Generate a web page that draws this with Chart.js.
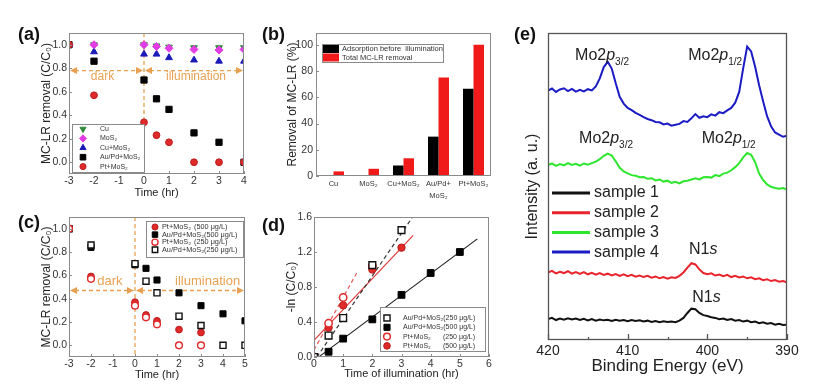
<!DOCTYPE html>
<html lang="en">
  <head>
    <meta charset="UTF-8" />
    <title>MC-LR removal and XPS</title>
    <script src="https://cdn.jsdelivr.net/npm/chart.js@4.4.1/dist/chart.umd.min.js"></script>
    <style>
      body { margin: 0; background: #fff; }
      #page { position: relative; width: 836px; height: 392px; overflow: hidden; }
      #page canvas { position: absolute; }
      .tag { position: absolute; font: bold 18px Arial, "Liberation Sans", sans-serif; line-height: 1; color: #111; }
    </style>
  </head>
  <body>
    <div id="page">
      <canvas id="chart-a"></canvas>
      <canvas id="chart-b"></canvas>
      <canvas id="chart-c"></canvas>
      <canvas id="chart-d"></canvas>
      <canvas id="chart-e"></canvas>
      <div class="tag" style="left: 18px; top: 25px">(a)</div>
      <div class="tag" style="left: 262px; top: 25px">(b)</div>
      <div class="tag" style="left: 18px; top: 213px">(c)</div>
      <div class="tag" style="left: 262px; top: 216px">(d)</div>
      <div class="tag" style="left: 514px; top: 25px">(e)</div>
    </div>

    <script>
      // (a) C/C0 with each catalyst
      const timeA = [-3, -2, 0, 0.5, 1, 2, 3, 4];
      const cuA = [1.0, 1.0, 1.0, 0.99, 0.98, 0.975, 0.975, 0.975];
      const mos2A = [1.0, 1.0, 1.0, 0.985, 0.97, 0.96, 0.955, 0.96];
      const cuMos2A = [1.0, 0.94, 0.92, 0.92, 0.89, 0.87, 0.86, 0.86];
      const auPdA = [1.0, 0.86, 0.7, 0.54, 0.45, 0.25, 0.17, 0.0];
      const ptA = [1.0, 0.57, 0.34, 0.23, 0.17, 0.0, 0.0, 0.0];
      const ticksAx = [-3, -2, -1, 0, 1, 2, 3, 4];
      const ticksAy = [0, 0.2, 0.4, 0.6, 0.8, 1.0];

      // (b) removal in percent
      const catB = ["Cu", "MoS₂", "Cu+MoS₂", ["Au/Pd+", "MoS₂"], "Pt+MoS₂"];
      const adsorbB = [0, 0, 8, 30, 66.5];
      const totalB = [3.5, 5.5, 13.5, 75, 100];
      const ticksBy = [0, 20, 40, 60, 80, 100];

      // (c) two initial concentrations
      const timeC = [-3, -2, 0, 0.5, 1, 2, 3, 4, 5];
      const pt500C = [1.0, 0.59, 0.37, 0.26, 0.21, 0.135, 0.11, null, null];
      const au500C = [1.0, 0.84, 0.69, 0.66, 0.56, 0.45, 0.34, 0.27, 0.21];
      const pt250C = [1.0, 0.57, 0.34, 0.24, 0.18, 0.0, 0.0, null, null];
      const au250C = [1.0, 0.86, 0.7, 0.55, 0.45, 0.25, 0.17, 0.0, 0.0];
      const ticksCx = [-3, -2, -1, 0, 1, 2, 3, 4, 5];
      const ticksCy = [0, 0.2, 0.4, 0.6, 0.8, 1.0];

      // (d) kinetics, -ln(C/C0)
      const timeD = [0, 0.5, 1, 2, 3, 4, 5];
      const au250D = [0, 0.245, 0.445, 1.05, 1.45, null, null];
      const au500D = [0, 0.06, 0.21, 0.43, 0.71, 0.96, 1.2];
      const pt250D = [0, 0.385, 0.68, 1.04, null, null, null];
      const pt500D = [0, 0.335, 0.59, 1.0, 1.25, null, null];
      const fitAu250T = [0.1, 3.38], fitAu250V = [0, 1.6];
      const fitAu500T = [0.2, 5.6], fitAu500V = [0.01, 1.35];
      const fitPt250T = [0, 1.48], fitPt250V = [0.08, 0.97];
      const fitPt500T = [0, 3.4], fitPt500V = [0.19, 1.39];
      const ticksDx = [0, 1, 2, 3, 4, 5, 6];
      const ticksDy = [0, 0.4, 0.8, 1.2, 1.6];

      // (e) XPS spectra, binding energy in eV, intensity in arbitrary units
      const energyE = [
        420, 419.5, 419, 418.5, 418, 417.5, 417, 416.5, 416, 415.5,
        415, 414.5, 414, 413.5, 413, 412.5, 412, 411.5, 411, 410.5,
        410, 409.5, 409, 408.5, 408, 407.5, 407, 406.5, 406, 405.5,
        405, 404.5, 404, 403.5, 403, 402.5, 402, 401.5, 401, 400.5,
        400, 399.5, 399, 398.5, 398, 397.5, 397, 396.5, 396, 395.5,
        395, 394.5, 394, 393.5, 393, 392.5, 392, 391.5, 391, 390.5,
        390,
      ];
      const sample1 = [
        6.8, 7.2, 6.5, 7.0, 6.6, 7.1, 6.7, 7.0, 6.5, 6.9,
        6.4, 6.8, 6.3, 6.7, 6.4, 6.6, 6.2, 6.6, 6.3, 6.5,
        6.1, 6.5, 6.2, 6.4, 6.0, 6.3, 5.9, 6.2, 5.8, 6.1,
        5.9, 6.0, 5.8, 6.3, 7.2, 8.8, 10.2, 10.0, 8.8, 8.1,
        7.8, 7.4, 7.2, 6.8, 7.0, 6.5, 6.8, 6.3, 6.5, 6.0,
        6.3, 5.8, 6.0, 5.5, 5.8, 5.3, 5.5, 5.0, 5.3, 4.9,
        5.0,
      ];
      const sample2 = [
        22.0, 22.5, 21.7, 22.2, 21.8, 22.4, 21.6, 22.1, 21.5, 22.1,
        21.4, 21.9, 21.3, 21.8, 21.2, 21.6, 21.0, 21.5, 20.9, 21.4,
        20.8, 21.2, 20.6, 21.0, 20.5, 20.9, 20.3, 20.7, 20.1, 20.5,
        20.0, 20.4, 20.2, 20.9, 22.0, 23.6, 25.0, 24.6, 23.0, 21.8,
        21.4, 21.7, 21.0, 21.3, 20.8, 21.2, 20.5, 20.9, 20.4, 20.7,
        20.1, 20.4, 19.8, 20.1, 19.5, 19.8, 19.2, 19.5, 19.0, 19.2,
        18.8,
      ];
      const sample3 = [
        57.0, 57.5, 56.7, 57.3, 56.9, 57.6, 57.0, 57.4, 56.8, 57.5,
        57.1, 57.6, 58.1, 58.9, 60.0, 60.7, 60.1, 58.2, 56.1, 54.9,
        54.3, 53.7, 53.5, 53.0, 53.1, 52.5, 52.7, 52.0, 52.3, 51.6,
        51.9, 51.2, 51.5, 51.0, 51.7, 51.9, 52.3, 52.7, 52.3, 53.0,
        53.1, 52.9, 53.7, 53.4, 54.2, 54.5, 55.3, 56.3, 57.6, 59.5,
        60.9, 60.3, 57.9, 54.2, 52.1, 50.7, 49.9, 49.5, 49.3, 49.5,
        49.0,
      ];
      const sample4 = [
        81.2, 81.9, 80.8, 81.6, 82.0, 81.1, 81.8, 80.9, 81.5, 81.0,
        81.7, 81.3, 82.6, 85.2, 88.9, 90.6, 88.4, 83.6, 79.2, 77.0,
        75.6, 74.9, 74.0, 73.3, 72.6, 72.0, 71.6, 71.0, 70.9, 70.2,
        70.5, 69.8, 70.1, 70.4, 71.3, 71.0, 72.2, 73.6, 72.4, 72.9,
        72.6, 73.5, 73.1, 74.2, 73.9, 74.8, 75.6, 77.3, 80.8, 88.5,
        95.6, 94.0, 89.0, 83.0, 77.8, 72.9, 69.6, 67.6, 66.9, 66.2,
        66.5,
      ];
      const ticksEx = [420, 410, 400, 390];
      const minorEx = [415, 405, 395];
      // peak labels: [binding energy, intensity, text]  (*italic*, _subscript_)
      const peakNotes = [
        [416.6, 91.2, "Mo2*p*_3/2_"],
        [402.4, 91.2, "Mo2*p*_1/2_"],
        [416.1, 64.2, "Mo2*p*_3/2_"],
        [400.7, 64.2, "Mo2*p*_1/2_"],
        [402.3, 28.0, "N1*s*"],
        [401.9, 12.4, "N1*s*"],
      ];
      const phaseNames = ["dark", "illumination"];

      const SANS = 'Arial, "Liberation Sans", sans-serif';
      const ORANGE = "#e8a152";
      const RED = "#e02a2a";
      const RED_EDGE = "#b81e1e";

      Chart.defaults.font.family = SANS;
      Chart.defaults.color = "#333";
      Chart.defaults.animation = false;
      Chart.defaults.events = [];
      Chart.defaults.plugins.legend.display = false;
      Chart.defaults.plugins.tooltip.enabled = false;

      const xy = (xs, ys) =>
        xs.map((x, i) => ({ x, y: ys[i] })).filter((p) => p.y !== null);

      // size a canvas on the page and work out padding so the plot box lands where wanted
      function place(id, box, plot, yW, xH) {
        const cv = document.getElementById(id);
        cv.width = box.w;
        cv.height = box.h;
        cv.style.left = box.x + "px";
        cv.style.top = box.y + "px";
        return {
          cv,
          yW,
          xH,
          padding: {
            left: plot.l - box.x - yW,
            top: plot.t - box.y,
            right: box.x + box.w - plot.r,
            bottom: box.y + box.h - plot.b - xH,
          },
        };
      }

      function linear(o) {
        return {
          type: "linear",
          min: o.min,
          max: o.max,
          reverse: !!o.reverse,
          afterBuildTicks: (s) => {
            s.ticks = o.ticks.map((v) => ({ value: v }));
          },
          afterFit: (s) => {
            if (s.isHorizontal()) s.height = o.fit;
            else s.width = o.fit;
          },
          grid: { display: false, drawTicks: false },
          border: { display: false },
          ticks: {
            display: o.labels !== false,
            padding: o.pad ?? 1,
            color: o.color || "#333",
            font: { size: o.size || 10.5 },
            callback: (v) => (o.digits == null ? v : Number(v).toFixed(o.digits)),
          },
          title: {
            display: !!o.title,
            text: o.title,
            padding: 0,
            color: "#222",
            font: { size: o.titleSize || 11 },
          },
        };
      }

      function marks(label, xs, ys, s) {
        return {
          label,
          data: xy(xs, ys),
          clip: 0,
          order: s.order || 0,
          showLine: false,
          pointStyle: s.shape,
          pointRadius: s.r,
          pointHoverRadius: s.r,
          pointRotation: s.rot || 0,
          pointBackgroundColor: s.fill,
          pointBorderColor: s.edge,
          pointBorderWidth: s.bw ?? 1,
        };
      }

      function fit(ts, vs, color, dash) {
        return {
          label: "fit",
          data: xy(ts, vs),
          showLine: true,
          clip: 0,
          order: 9,
          borderColor: color,
          borderWidth: 1.2,
          borderDash: dash,
          pointRadius: 0,
        };
      }

      // box around the plot, plus short ticks pointing inwards
      const framePlugin = {
        id: "frame",
        afterDatasetsDraw(chart, args, o) {
          const { ctx, chartArea: a, scales } = chart;
          ctx.save();
          ctx.strokeStyle = o.color || "#8a8a8a";
          ctx.lineWidth = o.width || 1;
          ctx.strokeRect(a.left + 0.5, a.top + 0.5, a.right - a.left - 1, a.bottom - a.top - 1);
          ctx.beginPath();
          const inward = (scale, values, len) =>
            values.forEach((v) => {
              const p = Math.round(scale.getPixelForValue(v)) + 0.5;
              if (scale.isHorizontal()) {
                ctx.moveTo(p, a.bottom);
                ctx.lineTo(p, a.bottom - len);
              } else {
                ctx.moveTo(a.left, p);
                ctx.lineTo(a.left + len, p);
              }
            });
          if (o.xLen) inward(scales.x, scales.x.ticks.map((t) => t.value), o.xLen);
          if (o.yLen) inward(scales.y, scales.y.ticks.map((t) => t.value), o.yLen);
          if (o.xMinor) inward(scales.x, o.xMinor, o.xLen / 2);
          ctx.stroke();
          ctx.restore();
        },
      };

      // hand-placed legend box like the original figure
      const keysPlugin = {
        id: "keys",
        afterDraw(chart, args, o) {
          if (!o.rows) return;
          const { ctx, chartArea: a } = chart;
          const [bx0, by0, bw, bh] = o.box;
          const bx = a.left + bx0;
          const by = a.top + by0;
          ctx.save();
          if (bw) {
            ctx.fillStyle = "#fff";
            ctx.fillRect(bx, by, bw, bh);
            ctx.strokeStyle = "#8a8a8a";
            ctx.lineWidth = 1;
            ctx.strokeRect(bx + 0.5, by + 0.5, bw, bh);
          }
          ctx.font = `${o.size}px ${SANS}`;
          ctx.textBaseline = "middle";
          ctx.textAlign = "left";
          o.rows.forEach((idx, i) => {
            const ds = chart.data.datasets[idx];
            const cy = by + o.row0 + i * o.rowH;
            const mx = bx + o.markX;
            if (o.kind === "bar") {
              ctx.fillStyle = ds.backgroundColor;
              ctx.fillRect(mx, cy - 4, 16, 8);
            } else if (o.kind === "line") {
              ctx.strokeStyle = ds.borderColor;
              ctx.lineWidth = 3;
              ctx.beginPath();
              ctx.moveTo(mx, cy);
              ctx.lineTo(mx + 38, cy);
              ctx.stroke();
            } else {
              ctx.fillStyle = ds.pointBackgroundColor;
              ctx.strokeStyle = ds.pointBorderColor;
              ctx.lineWidth = ds.pointBorderWidth;
              Chart.helpers.drawPoint(
                ctx,
                {
                  pointStyle: ds.pointStyle,
                  radius: ds.pointRadius * 0.9,
                  rotation: ds.pointRotation,
                  borderWidth: ds.pointBorderWidth,
                },
                mx,
                cy
              );
            }
            const [main, tail] = ds.label.split("\t");
            ctx.fillStyle = o.color || "#333";
            ctx.fillText(main, bx + o.textX, cy);
            if (tail) ctx.fillText(tail, bx + o.tabX, cy);
          });
          ctx.restore();
        },
      };

      // dashed dark / illumination markers
      const guidePlugin = {
        id: "guide",
        beforeDatasetsDraw(chart, args, o) {
          if (o.level == null) return;
          const { ctx, chartArea: a, scales } = chart;
          const { x, y } = scales;
          const x0 = x.getPixelForValue(0);
          const xr = x.getPixelForValue(o.end);
          const yl = y.getPixelForValue(o.level);
          ctx.save();
          ctx.strokeStyle = ORANGE;
          ctx.fillStyle = ORANGE;
          ctx.lineWidth = 1.3;
          ctx.setLineDash([4, 3]);
          ctx.beginPath();
          ctx.moveTo(x0, a.top);
          ctx.lineTo(x0, a.bottom);
          ctx.moveTo(a.left + 6, yl);
          ctx.lineTo(x0 - 6, yl);
          ctx.moveTo(x0 + 6, yl);
          ctx.lineTo(xr - 6, yl);
          ctx.stroke();
          ctx.setLineDash([]);
          const head = (tip, dir) => {
            ctx.beginPath();
            ctx.moveTo(tip, yl);
            ctx.lineTo(tip - dir * 7, yl - 3.5);
            ctx.lineTo(tip - dir * 7, yl + 3.5);
            ctx.closePath();
            ctx.fill();
          };
          head(a.left + 1, -1);
          head(x0 - 1, 1);
          head(x0 + 1, -1);
          head(xr - 1, 1);
          ctx.font = `${o.size}px ${SANS}`;
          ctx.textAlign = "center";
          ctx.textBaseline = "middle";
          ctx.fillText(phaseNames[0], x.getPixelForValue(o.darkX), y.getPixelForValue(o.textY));
          ctx.fillText(phaseNames[1], x.getPixelForValue(o.lightX), y.getPixelForValue(o.textY));
          ctx.restore();
        },
      };

      // peak names with italic letters and subscripts
      const notesPlugin = {
        id: "notes",
        afterDatasetsDraw(chart, args, o) {
          if (!o.size) return;
          const { ctx, scales } = chart;
          ctx.save();
          ctx.fillStyle = "#222";
          ctx.textBaseline = "alphabetic";
          ctx.textAlign = "left";
          peakNotes.forEach(([be, level, text]) => {
            let px = scales.x.getPixelForValue(be);
            const py = scales.y.getPixelForValue(level);
            text
              .split(/(\*[^*]+\*|_[^_]+_)/)
              .filter(Boolean)
              .forEach((run) => {
                let t = run;
                let dy = 0;
                let f = `${o.size}px ${SANS}`;
                if (run[0] === "*") {
                  t = run.slice(1, -1);
                  f = `italic ${o.size}px ${SANS}`;
                } else if (run[0] === "_") {
                  t = run.slice(1, -1);
                  f = `${Math.round(o.size * 0.65)}px ${SANS}`;
                  dy = 5;
                }
                ctx.font = f;
                ctx.fillText(t, px, py + dy);
                px += ctx.measureText(t).width;
              });
          });
          ctx.restore();
        },
      };

      Chart.register(framePlugin, keysPlugin, guidePlugin, notesPlugin);

      // ---------- (a) ----------
      const A = place("chart-a", { x: 0, y: 0, w: 262, h: 202 }, { l: 69, t: 33, r: 244, b: 174 }, 30, 26);
      new Chart(A.cv, {
        type: "scatter",
        data: {
          datasets: [
            marks("Cu", timeA, cuA, { shape: "triangle", rot: 180, r: 3.9, fill: "#2e8b3a", edge: "#2e8b3a", order: 2 }),
            marks("MoS₂", timeA, mos2A, { shape: "rectRot", r: 4, fill: "#e23de2", edge: "#e23de2", order: 1 }),
            marks("Cu+MoS₂", timeA, cuMos2A, { shape: "triangle", r: 3.9, fill: "#1a1ab8", edge: "#1a1ab8", order: 3 }),
            marks("Au/Pd+MoS₂", timeA, auPdA, { shape: "rect", r: 4.4, fill: "#000", edge: "#000", order: 4 }),
            marks("Pt+MoS₂", timeA, ptA, { shape: "circle", r: 3.4, fill: RED, edge: RED_EDGE, order: 0 }),
          ],
        },
        options: {
          responsive: false,
          layout: { padding: A.padding },
          scales: {
            x: linear({ min: -3, max: 4, ticks: ticksAx, fit: A.xH, pad: 1, title: "Time (hr)" }),
            y: linear({ min: -0.1, max: 1.1, ticks: ticksAy, fit: A.yW, pad: 2, digits: 1, title: "MC-LR removal (C/C₀)", titleSize: 12 }),
          },
          plugins: {
            frame: { xLen: 3, yLen: 3 },
            guide: { level: 0.78, end: 4, darkX: -1.66, lightX: 2.08, textY: 0.725, size: 12 },
            keys: { box: [3, 91, 72, 48], row0: 5, rowH: 9.4, markX: 11, textX: 28, size: 7, rows: [0, 1, 2, 3, 4] },
          },
        },
      });

      // ---------- (b) ----------
      const B = place("chart-b", { x: 258, y: 0, w: 250, h: 205 }, { l: 316, t: 33, r: 491, b: 176 }, 31, 28);
      new Chart(B.cv, {
        type: "bar",
        data: {
          labels: catB,
          datasets: [
            { label: "Adsorption before  illumination", data: adsorbB, backgroundColor: "#000" },
            { label: "Total MC-LR removal", data: totalB, backgroundColor: "#f01a1a" },
          ],
        },
        options: {
          responsive: false,
          layout: { padding: B.padding },
          datasets: { bar: { categoryPercentage: 0.6, barPercentage: 1 } },
          scales: {
            x: {
              afterFit: (s) => {
                s.height = B.xH;
              },
              grid: { display: false, drawTicks: false },
              border: { display: false },
              ticks: { padding: 2, maxRotation: 0, autoSkip: false, color: "#333", font: { size: 7.5, lineHeight: 1.6 } },
            },
            y: linear({ min: 0, max: 109, ticks: ticksBy, fit: B.yW, pad: 3, title: "Removal of MC-LR (%)", titleSize: 12 }),
          },
          plugins: {
            frame: { yLen: 3 },
            keys: { kind: "bar", box: [6, 11, 121, 18], row0: 5, rowH: 8.5, markX: 1, textX: 20, size: 7.5, rows: [0, 1] },
          },
        },
      });

      // ---------- (c) ----------
      const C = place("chart-c", { x: 0, y: 200, w: 262, h: 192 }, { l: 69, t: 217, r: 245, b: 357 }, 30, 25);
      new Chart(C.cv, {
        type: "scatter",
        data: {
          datasets: [
            marks("Pt+MoS₂\t(500 μg/L)", timeC, pt500C, { shape: "circle", r: 3.4, fill: RED, edge: RED_EDGE, order: 1 }),
            marks("Au/Pd+MoS₂(500 μg/L)", timeC, au500C, { shape: "rect", r: 4.3, fill: "#000", edge: "#000", order: 1 }),
            marks("Pt+MoS₂\t(250 μg/L)", timeC, pt250C, { shape: "circle", r: 3.4, fill: "#fff", edge: RED, bw: 1.4, order: 0 }),
            marks("Au/Pd+MoS₂(250 μg/L)", timeC, au250C, { shape: "rect", r: 4.3, fill: "#fff", edge: "#111", bw: 1.4, order: 0 }),
          ],
        },
        options: {
          responsive: false,
          layout: { padding: C.padding },
          scales: {
            x: linear({ min: -3, max: 5, ticks: ticksCx, fit: C.xH, pad: 1, title: "Time (hr)" }),
            y: linear({ min: -0.1, max: 1.1, ticks: ticksCy, fit: C.yW, pad: 2, digits: 1, title: "MC-LR removal (C/C₀)", titleSize: 12 }),
          },
          plugins: {
            frame: { xLen: 3, yLen: 3 },
            guide: { level: 0.47, end: 5, darkX: -1.14, lightX: 3.3, textY: 0.545, size: 13 },
            keys: { box: [77, 4, 97, 36], row0: 6, rowH: 7.6, markX: 9, textX: 16, tabX: 48, size: 7.3, rows: [0, 1, 2, 3] },
          },
        },
      });

      // ---------- (d) ----------
      const D = place("chart-d", { x: 258, y: 200, w: 250, h: 192 }, { l: 314, t: 217, r: 489, b: 357 }, 30, 24);
      new Chart(D.cv, {
        type: "scatter",
        data: {
          datasets: [
            marks("Au/Pd+MoS₂(250 μg/L)", timeD, au250D, { shape: "rect", r: 4.8, fill: "#fff", edge: "#111", bw: 1.4, order: 0 }),
            marks("Au/Pd+MoS₂(500 μg/L)", timeD, au500D, { shape: "rect", r: 4.8, fill: "#000", edge: "#000", order: 1 }),
            marks("Pt+MoS₂\t(250 μg/L)", timeD, pt250D, { shape: "circle", r: 3.7, fill: "#fff", edge: RED, bw: 1.5, order: 0 }),
            marks("Pt+MoS₂\t(500 μg/L)", timeD, pt500D, { shape: "circle", r: 3.7, fill: RED, edge: RED_EDGE, order: 1 }),
            fit(fitAu250T, fitAu250V, "#333", [4, 3]),
            fit(fitAu500T, fitAu500V, "#222", []),
            fit(fitPt250T, fitPt250V, "#e65a5a", [4, 3]),
            fit(fitPt500T, fitPt500V, "#e03a3a", []),
          ],
        },
        options: {
          responsive: false,
          layout: { padding: D.padding },
          scales: {
            x: linear({ min: 0, max: 6, ticks: ticksDx, fit: D.xH, pad: 1, title: "Time of illumination (hr)" }),
            y: linear({ min: 0, max: 1.6, ticks: ticksDy, fit: D.yW, pad: 2, digits: 1, title: "-ln (C/C₀)", titleSize: 12 }),
          },
          plugins: {
            frame: { xLen: 3, yLen: 3 },
            keys: { box: [66, 90, 105, 44], row0: 11, rowH: 9.3, markX: 7, textX: 23, tabX: 63, size: 7, rows: [0, 1, 2, 3] },
          },
        },
      });

      // ---------- (e) ----------
      const E = place("chart-e", { x: 505, y: 0, w: 331, h: 392 }, { l: 548, t: 33, r: 787, b: 340 }, 25, 37);
      const spectrum = (label, ys, color) => ({
        label,
        data: xy(energyE, ys),
        showLine: true,
        borderColor: color,
        borderWidth: 2,
        pointRadius: 0,
      });
      new Chart(E.cv, {
        type: "scatter",
        data: {
          datasets: [
            spectrum("sample 1", sample1, "#111111"),
            spectrum("sample 2", sample2, "#e8242c"),
            spectrum("sample 3", sample3, "#2ee62e"),
            spectrum("sample 4", sample4, "#1c1cc4"),
          ],
        },
        options: {
          responsive: false,
          layout: { padding: E.padding },
          scales: {
            x: linear({
              min: 390, max: 420, reverse: true, ticks: ticksEx, fit: E.xH, pad: 3,
              size: 14, color: "#222", title: "Binding Energy (eV)", titleSize: 17,
            }),
            y: linear({ min: 0, max: 100, ticks: [], fit: E.yW, labels: false, title: "Intensity (a. u.)", titleSize: 16 }),
          },
          plugins: {
            frame: { color: "#555", width: 1.3, xLen: 6, xMinor: minorEx },
            notes: { size: 16 },
            keys: { kind: "line", box: [0, 0, 0, 0], row0: 160, rowH: 19.7, markX: 4, textX: 46, size: 16, color: "#222", rows: [0, 1, 2, 3] },
          },
        },
      });
    </script>
  </body>
</html>
